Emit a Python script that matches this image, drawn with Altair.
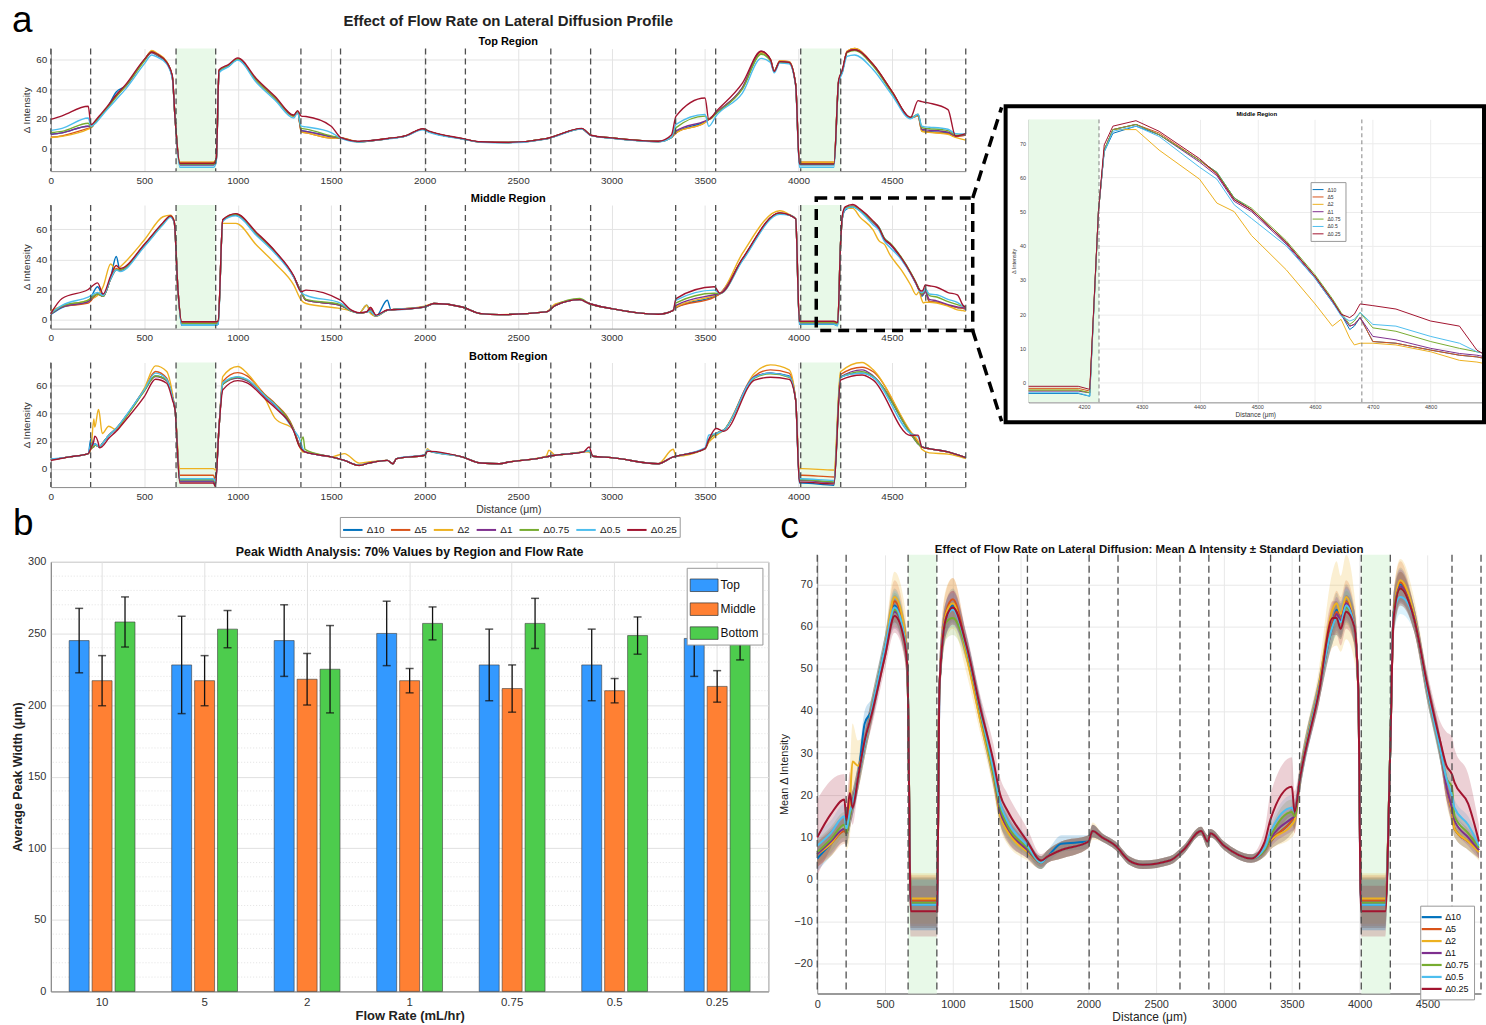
import altair as alt
import pandas as pd

FONT = "Liberation Sans, Arial, Helvetica, sans-serif"
NARROW = "Liberation Sans Narrow, Arial Narrow, Liberation Sans, Arial, sans-serif"

SERIES = ["Δ10", "Δ5", "Δ2", "Δ1", "Δ0.75", "Δ0.5", "Δ0.25"]
COLORS = ["#0072BD", "#D95319", "#EDB120", "#7E2F8E", "#77AC30", "#4DBEEE", "#A2142F"]

BOUNDARIES = [0, 213, 670, 882, 1338, 1550, 2005, 2218, 2675, 2888, 3343, 3557, 4012, 4226, 4681, 4895]
GREEN_START = [670, 4012]
GREEN_END = [882, 4226]
X_TICKS = [0, 500, 1000, 1500, 2000, 2500, 3000, 3500, 4000, 4500]
XDOM = [0, 4895]

# ---------------- Panel a : Top region ----------------
GX_TOP = [0, 60, 200, 215, 240, 260, 300, 350, 400, 500,
          540, 570, 620, 650, 665, 690, 870, 885, 900, 950,
          1000, 1100, 1200, 1300, 1320, 1340, 1365, 1500, 1550, 1650,
          1700, 1800, 1900, 1990, 2020, 2200, 2300, 2450, 2650, 2700,
          2840, 2890, 3000, 3250, 3320, 3345, 3500, 3520, 3560, 3700,
          3800, 3850, 3870, 3900, 3950, 3985, 4005, 4020, 4190, 4215,
          4235, 4260, 4300, 4400, 4500, 4600, 4640, 4660, 4680, 4700,
          4800, 4840, 4895]
TOP_D10 = [9.6, 10.5, 15, 14.5, 18, 21, 27, 38, 42, 59.5,
           65, 63, 58, 48, 20, -11, -11, -8, 52, 55.5,
           60, 46, 34, 22, 25, 12, 11.5, 8, 7, 4.5,
           5, 6.5, 8.5, 13, 11.5, 6.5, 4.4, 4, 6.5, 8.4,
           13.3, 8.8, 7, 4.7, 7.5, 10.7, 18, 19.5, 24, 40.7,
           64, 59.6, 52, 58.4, 58, 43, -11, -11, -11, 45,
           52, 65, 66.5, 56, 38, 20.7, 22, 12, 11.5, 11.2,
           10.7, 8.4, 9.6]
TOP_D5 = [7.5, 8.5, 13.5, 14, 18, 21, 27, 35, 42, 59.5,
          65.5, 63.5, 58, 48, 20, -9.5, -9.5, -7, 52.5, 55.5,
          60.5, 46, 34, 22, 25, 11, 10.5, 7, 7, 4.5,
          5, 6.5, 8.5, 13, 11.5, 6.5, 4.4, 4, 6.5, 8.4,
          13.3, 8.8, 7, 4.7, 7.5, 10.5, 17.5, 19.5, 24, 40.7,
          65, 60, 52, 59, 58.5, 43, -9.3, -9.3, -9.3, 45,
          52, 65.5, 67.3, 56.5, 38.5, 20.7, 22, 11.8, 11.3, 11,
          10, 8, 9]
TOP_D2 = [7.3, 8.2, 13, 14, 18, 21, 27, 35, 42, 59,
          66, 64, 58.5, 48, 20, -9.3, -9.3, -7, 52, 55.5,
          60, 45.5, 33.5, 21.5, 25, 11, 10.5, 7, 7, 4.3,
          5, 6.5, 8.5, 13, 11.5, 6.5, 4.4, 4, 6.5, 8.4,
          13.3, 8.8, 7, 4.7, 7.5, 10.5, 17.5, 19.5, 24, 40.7,
          64.5, 60, 52, 59, 58.5, 43, -9.3, -9.3, -9.3, 45,
          52, 65.5, 67.3, 56.5, 38.5, 20.7, 22, 11.5, 11, 10.8,
          9.5, 7.5, 5.6]
TOP_D1 = [9.5, 10.5, 15, 14.5, 18, 21, 27, 36, 42, 59.5,
          64.5, 62.5, 57.5, 48, 20, -11, -11, -8, 52, 55.5,
          60, 46, 34, 22, 25, 12, 11.5, 8, 7, 4.5,
          5, 6.5, 8.5, 13, 11.5, 6.5, 4.4, 4, 6.5, 8.4,
          13.3, 8.8, 7, 4.7, 7.5, 11.8, 18.4, 19.5, 24, 41,
          65.5, 59.6, 52, 58.4, 58, 43, -10.4, -10.4, -10.4, 45,
          52, 65, 66.5, 56, 38, 20.7, 22.5, 12.9, 12.5, 12.3,
          11, 8.5, 9.2]
TOP_D075 = [10.7, 11.5, 17, 14.5, 18, 21, 27, 35, 42, 59,
            65, 63, 58, 48, 20, -10.5, -10.5, -8, 52, 55.5,
            60, 46, 34, 22, 25, 13.5, 13, 8.5, 7, 4.5,
            5, 6.5, 8.5, 13, 11.5, 6.5, 4.4, 4, 6.5, 8.4,
            13.3, 8.8, 7, 4.7, 7.5, 14, 21.8, 19.5, 23.5, 40,
            63.5, 59, 52, 58, 57.5, 43, -10.4, -10.4, -10.4, 45,
            52, 64.5, 66, 55.5, 37.5, 20.7, 23, 14, 13.5, 13.3,
            12, 9, 9.4]
TOP_D05 = [12.2, 13.5, 20.5, 15, 17, 20, 26, 33, 40, 57,
           63, 61.5, 57, 47, 20, -12.7, -12.7, -9, 51, 55,
           59.5, 44.5, 32.5, 20.5, 24, 15, 14.5, 10.7, 7, 4.3,
           5, 6.3, 8.3, 12.5, 11, 6.3, 4.2, 3.8, 6.3, 8.2,
           13, 8.6, 6.8, 4.5, 7.5, 16.2, 22.9, 15, 22, 37.3,
           60.7, 58, 51, 57.5, 57, 42, -12.7, -12.7, -12.7, 44,
           51, 62, 63, 53, 36, 20, 23, 15, 14.5, 14.3,
           12.9, 10, 9.8]
TOP_D025 = [19.6, 22, 28.4, 16, 19, 22, 28, 36, 43, 60,
            65, 63.5, 58, 49, 20, -10, -10, -7, 53, 56.5,
            61, 47, 35, 22.5, 25.5, 21.8, 21.5, 15, 7.5, 4.8,
            5.2, 6.7, 8.6, 13.3, 11.8, 6.8, 4.5, 4.1, 6.6, 8.5,
            13.5, 8.9, 7.1, 4.8, 9, 21.8, 34, 19.6, 25, 44,
            65.5, 60, 52, 58.5, 58, 43, -10.4, -10.4, -10.4, 46,
            53, 65, 66.5, 56.5, 38.5, 21, 32.2, 31.5, 31, 30.5,
            26.2, 8.4, 10]

# ---------------- Panel a : Middle region ----------------
GX_MID = [0, 60, 200, 250, 280, 320, 350, 370, 500, 600,
          640, 660, 680, 700, 880, 895, 920, 990, 1100, 1200,
          1300, 1340, 1365, 1550, 1600, 1650, 1690, 1710, 1740, 1800,
          1820, 2000, 2050, 2200, 2300, 2400, 2650, 2700, 2830, 2880,
          3000, 3250, 3330, 3345, 3550, 3580, 3700, 3900, 3950, 3985,
          4005, 4020, 4190, 4210, 4225, 4235, 4250, 4290, 4330, 4400,
          4430, 4460, 4490, 4550, 4600, 4630, 4645, 4660, 4668, 4678,
          4700, 4740, 4800, 4850, 4880, 4895]
MID_D10 = [3.5, 8, 12, 21.8, 16, 28, 42, 33, 49.6, 64,
           68.5, 65, 20, -3.8, -3.8, -3, 66, 69.5, 57, 45,
           28.4, 18.4, 12.9, 9.5, 6.2, 4.4, 9.5, 5, 2.2, 12.9,
           6.5, 8.4, 10.7, 8.4, 4, 3.3, 5.1, 9.5, 13.3, 10.7,
           7.3, 3.6, 6.2, 8, 15.5, 17.3, 40, 70.7, 69.6, 67,
           -3.2, -3.2, -3.2, -4, 50, 67.5, 72.9, 75, 72.5, 65,
           61.5, 54, 50.5, 41, 31, 24, 20, 15.5, 16.5, 19,
           12, 11.5, 9.5, 8, 7.5, 7]
MID_D5 = [4, 8.5, 11, 17, 15.5, 27, 34, 33, 49.5, 64,
          68.9, 65, 20, -1.6, -1.6, -1, 66.2, 70.2, 57.3, 45,
          28.4, 18, 12.9, 9.5, 6.2, 4.4, 5, 8, 2.5, 6.2,
          6.5, 8.4, 10.7, 8.4, 4, 3.3, 5.1, 9.5, 13.3, 10.7,
          7.3, 3.6, 6.2, 8, 15, 17.3, 40, 70.7, 69.6, 67,
          -1.7, -1.7, -1.7, -2.5, 50, 68, 74, 75.5, 73, 65,
          61, 53.5, 50.5, 41, 31, 24, 20, 16.5, 17, 19,
          12, 11.5, 9.5, 8, 7.5, 7]
MID_D2 = [6, 9, 13, 16, 22, 37, 33, 35, 52.9, 68.4,
          69.5, 66, 20, -2.5, -2.5, -1.5, 64, 64, 49.6, 37.3,
          22.9, 12.9, 10.7, 7.3, 6, 4.4, 9.5, 4, 2.2, 6.2,
          6.5, 9, 10.7, 8.4, 4, 3.3, 5.1, 10.5, 13.3, 10.7,
          7.3, 3.6, 6.2, 8.5, 16, 17.3, 44, 72.4, 70, 67,
          -2.2, -2.2, -2.2, -3, 50, 68, 74, 74, 68, 59.5,
          52.5, 50, 43, 33, 23, 16.5, 18.5, 13, 11, 11.5,
          11.5, 11, 9, 6.5, 6, 5.5]
MID_D1 = [3.8, 8.5, 12, 17, 15.5, 27, 33, 33, 49.5, 64,
          68.5, 65, 20, -2.5, -2.5, -2, 66.2, 70, 57.3, 45,
          28.4, 18.4, 12.9, 9.5, 6.2, 4.4, 5, 7, 2.5, 6.2,
          6.5, 8.4, 10.7, 8.4, 4, 3.3, 5.1, 9.5, 13.3, 10.7,
          7.3, 3.6, 6.2, 9.5, 16.5, 17.3, 40, 70.7, 69.6, 67,
          -2.5, -2.5, -2.5, -3, 50, 68, 74, 75.5, 72.5, 64.5,
          60.5, 53, 50, 40.5, 30.5, 23.5, 20, 16.5, 17, 19,
          13.5, 12.5, 10, 8.5, 8, 7.5]
MID_D075 = [4, 9, 13, 17, 15.5, 27, 33, 33, 49, 63.5,
            68.5, 65, 20, -2.5, -2.5, -2, 66, 70, 57.3, 45,
            28.4, 18.4, 13.5, 10, 6.2, 4.4, 5, 6, 2.5, 6.2,
            6.5, 8.4, 10.7, 8.4, 4, 3.3, 5.1, 9.5, 14, 10.7,
            7.3, 3.6, 6.2, 11.1, 17.5, 17.3, 39.5, 70.5, 69.6, 67,
            -2.2, -2.2, -2.2, -3, 50, 68, 74, 75.5, 72.5, 65,
            61.5, 54, 51, 41.5, 31.5, 24.5, 20.5, 17, 18, 20.5,
            16, 15, 12, 10, 9, 8.5]
MID_D05 = [4.5, 9.5, 15, 18, 16, 27, 33, 32, 48.5, 63,
           68, 65, 20, -3.8, -3.8, -3, 65.5, 69, 56, 44,
           28, 18, 16.2, 11, 6.5, 4.4, 5, 5.5, 2.5, 6.2,
           6.5, 8.4, 10.7, 8.4, 4, 3.3, 5.1, 9.5, 13.3, 10.7,
           7.3, 3.6, 6.2, 12.9, 19.6, 17.3, 39, 70, 69.6, 67,
           -3, -3, -3, -4, 50, 67.5, 73.5, 75, 72, 63,
           59.5, 52, 48, 40, 30.5, 23.5, 19.5, 18, 18.5, 20.5,
           17, 16.5, 13.5, 11.5, 9, 8.5]
MID_D025 = [4, 14, 20, 24.4, 17, 29, 36, 34, 50, 64.5,
            69, 65.5, 20, -1.4, -1.4, -1, 66.5, 70.5, 58, 45.5,
            29, 18.5, 19.6, 12.9, 7, 4.6, 5.2, 8, 3, 6.4,
            6.5, 8.5, 10.7, 8.4, 4, 3.3, 5.1, 9.5, 13.3, 10.7,
            7.3, 3.6, 6.2, 14, 21.8, 17.5, 40.5, 71, 69.6, 67,
            -1.1, -1.1, -1.1, -2, 50, 69.5, 75, 76.6, 73.5, 65.5,
            61, 53.5, 50.5, 41, 31, 24, 20, 19, 20, 23,
            22.5, 21.5, 18, 16.5, 9.5, 8]

# ---------------- Panel a : Bottom region ----------------
GX_BOT = [0, 100, 200, 215, 230, 235, 255, 260, 275, 310,
          350, 400, 500, 560, 620, 650, 665, 690, 870, 880,
          900, 920, 1000, 1050, 1150, 1200, 1300, 1330, 1350, 1360,
          1500, 1570, 1650, 1700, 1800, 1830, 1850, 2000, 2015, 2030,
          2200, 2300, 2400, 2450, 2650, 2665, 2700, 2850, 2880, 2900,
          3000, 3250, 3330, 3345, 3500, 3520, 3560, 3600, 3765, 3850,
          3950, 3985, 4005, 4020, 4190, 4225, 4340, 4400, 4600, 4640,
          4660, 4700, 4800, 4895]
BOT_D10 = [6.5, 8.5, 10.9, 21.8, 17, 18, 16, 15.7, 18, 24,
           29, 37.5, 56.9, 67, 64, 52, 42, -9, -9, -12,
           30, 61, 66, 64, 52, 46, 27.8, 17, 13, 12.1,
           8.5, 6, 2.4, 4, 6, 3.6, 7.3, 9.7, 13, 12.5,
           8.5, 4.1, 3.6, 4.8, 8.5, 9, 9.7, 12.1, 13, 9,
           8, 3.6, 8.5, 9, 14.5, 20.6, 25.4, 27.8, 66, 69,
           67, 49.6, -10.4, -10.4, -12, 66.5, 69, 66, 25.4, 18,
           15.7, 14.5, 12.1, 8]
BOT_D5 = [6.5, 8.5, 10.9, 14.5, 16, 17, 16, 15.7, 18, 24,
          29, 37, 57, 70.2, 65.3, 52, 42, -4.8, -4.8, -8,
          30, 63, 69.4, 67, 53, 47, 28.5, 17, 13, 12.1,
          8.5, 6, 2.4, 4, 6, 3.6, 7.3, 9.7, 13, 12.5,
          8.5, 4.1, 3.6, 4.8, 8.5, 9, 9.7, 12.1, 13, 9,
          8, 3.6, 8.5, 9, 14.5, 20.6, 25.4, 27.8, 67, 71.4,
          69, 49.6, -4.8, -4.8, -6, 68, 73.3, 70, 26, 19,
          15.7, 14.5, 12, 8]
BOT_D2 = [6.5, 8.5, 10.9, 14.5, 36, 30, 42.8, 40, 25.4, 30.7,
          28, 37, 58, 74.3, 70.2, 55, 42, 0, 0, -1,
          30, 66.5, 73.8, 69, 49.6, 36.3, 28, 16, 12, 12.1,
          8.5, 10.9, 4, 4.8, 6, 3.6, 7.3, 9.7, 14.5, 12.5,
          8.5, 4.1, 3.6, 4.8, 9, 13.3, 9.7, 12.1, 12, 9,
          8, 3.6, 14, 9, 14.5, 19, 24, 27.8, 69, 75,
          71.4, 49.6, 0, 0, -1, 70, 76.7, 71.4, 27, 20,
          14, 11.4, 10.5, 7.3]
BOT_D1 = [6.5, 8.5, 10.9, 14.5, 16, 18, 16, 15.7, 18, 24,
          29, 37.5, 56.5, 66.5, 63.5, 52, 42, -9, -9, -11,
          30, 61, 65.5, 63.5, 51.5, 45.5, 27.5, 17, 13, 12.1,
          8.5, 6, 2.4, 4, 6, 3.6, 7.3, 9.7, 13, 12.5,
          8.5, 4.1, 3.6, 4.8, 8.5, 9, 9.7, 12.1, 13, 9,
          8, 3.6, 8.5, 9, 14.5, 20.6, 25.4, 27.8, 66.5, 69,
          66.5, 49.6, -8.5, -8.5, -10, 66, 71.4, 67, 25.4, 18,
          15.7, 14.5, 12.1, 8]
BOT_D075 = [6.5, 8.5, 10.9, 14.5, 16, 17, 16, 15.7, 18, 24,
            29, 37, 56, 67, 64, 52, 42, -8, -8, -10,
            30, 61, 66, 64, 52.5, 46.5, 28, 17, 23, 14,
            8.5, 6, 2.4, 4, 6, 3.6, 7.3, 9.7, 13, 12.5,
            8.5, 4.1, 3.6, 4.8, 8.5, 9, 9.7, 12.1, 13, 9,
            8, 3.6, 8.5, 9, 14.5, 20.6, 25.4, 27.8, 65.5, 68.5,
            66, 49.6, -8, -8, -9.5, 66, 70, 66.5, 25.4, 18,
            15.7, 14.5, 12.1, 8]
BOT_D05 = [7, 8.5, 10.9, 18, 17, 18, 16, 16, 18, 24,
           29, 38, 57, 69, 64.5, 52, 42, -7.3, -7.3, -9,
           30, 62, 66.5, 64.5, 52, 46, 27.8, 21.8, 14, 12.1,
           8.5, 6, 2.6, 4, 6, 3.6, 7.3, 10.2, 13.5, 12.5,
           8.5, 4.1, 3.6, 4.8, 8.5, 9, 9.7, 12.1, 13, 9,
           8, 3.6, 8.5, 9, 15, 24.2, 25.4, 27.8, 66, 69,
           66.5, 49.6, -7.3, -7.3, -8.5, 66, 69, 66, 25.4, 23,
           16, 14.5, 12.1, 8]
BOT_D025 = [6, 8.5, 10.9, 15, 20, 23.5, 18, 15, 16, 22,
            27, 35, 52, 64.6, 61.7, 50, 42, -10.4, -10.4, -13,
            30, 56.9, 63.6, 62, 50, 44, 27, 16, 13, 12.1,
            8.5, 6, 2.3, 4, 6, 3.6, 7.3, 9.7, 12.5, 12.5,
            8.5, 4.1, 3.6, 4.8, 8.5, 9, 9.7, 12.1, 15.7, 9,
            8, 3.6, 8.5, 9, 14.5, 21, 29, 27, 64, 66,
            64.5, 49.6, -9.7, -9.7, -11, 64, 67.7, 64, 24, 24.2,
            15.7, 14.5, 12.1, 8]

# ---------------- Panel b : peak widths ----------------
FLOWS = ["10", "5", "2", "1", "0.75", "0.5", "0.25"]
REGIONS = ["Top", "Middle", "Bottom"]
REGION_COLORS = ["#3399FF", "#FF8033", "#4DCC4D"]
B_TOP = [245, 228, 245, 250, 228, 228, 246.5]
B_TOP_SD = [22.5, 34, 25, 22.5, 25, 25, 26.5]
B_MID = [217, 217, 218, 217, 211.5, 210, 213]
B_MID_SD = [17.5, 17.5, 18, 8.5, 16.5, 8.5, 11]
B_BOT = [258, 253, 225, 257, 257, 248.5, 243]
B_BOT_SD = [17.5, 13, 30.5, 11.5, 17.5, 13, 11.5]
B_YTICKS = [0, 50, 100, 150, 200, 250, 300]
B_MINOR = [v for v in range(10, 300, 10) if v % 50 != 0]

# ---------------- Panel c : mean +/- sd ----------------
GX_C = [0, 100, 200, 215, 240, 260, 300, 350, 400, 500,
        570, 640, 665, 690, 870, 885, 900, 950, 1000, 1100,
        1200, 1300, 1350, 1400, 1550, 1650, 1700, 1800, 2000, 2030,
        2100, 2200, 2300, 2400, 2600, 2700, 2830, 2880, 2900, 3000,
        3200, 3300, 3340, 3500, 3520, 3560, 3700, 3800, 3830, 3860,
        3900, 3960, 3990, 4010, 4190, 4225, 4250, 4300, 4400, 4500,
        4600, 4640, 4680, 4700, 4800, 4880]
C_D10 = [5, 8.5, 12, 11, 15, 18, 24, 37, 40, 55,
         65, 58, 50, -6, -6, -6, 45, 62, 65, 55,
         40, 25, 16, 12, 7, 4, 5.5, 8.5, 9, 11.5,
         10, 8, 4.5, 3.5, 4.5, 7, 11.5, 9, 11, 8,
         5, 7, 9, 14, 15, 24, 45, 61, 64, 62,
         66, 60, 45, -6, -6, 30, 63, 70, 62, 45,
         30, 22, 16, 12, 9, 7]
C_D5 = [6, 8.5, 11.5, 11, 15, 18, 24, 32, 40, 55,
        66, 58, 50, -5, -5, -5, 45, 63.5, 66.5, 55,
        40, 25, 16, 12, 7, 4, 5.5, 7, 9, 11.5,
        10, 8, 4.5, 3.5, 4.5, 7, 11.5, 9, 11, 8,
        5, 7, 9, 14, 15, 24, 45, 61, 63.5, 62,
        66, 60, 45, -5, -5, 30, 63, 70.5, 62, 45,
        30, 22, 16, 12, 9, 7]
C_D2 = [6, 8.5, 12, 12, 18, 28, 27, 32, 40, 55,
        67, 60, 50, -4.5, -4.5, -4.5, 45, 63, 65.5, 53,
        38, 24, 15, 11.5, 6.5, 4, 5.5, 7, 9, 11.5,
        10, 8, 4.5, 3.5, 4.5, 7, 11.5, 9, 11, 8,
        5, 7, 9, 13, 14, 24, 46, 64, 65.5, 63,
        67, 60, 45, -4.5, -4.5, 30, 63, 71, 63, 45,
        30, 22, 16, 12, 9, 6.5]
C_D1 = [6, 9, 12, 11, 15, 18, 24, 32, 40, 55,
        63.5, 58, 50, -5.5, -5.5, -5.5, 45, 62, 64.5, 55,
        40, 25, 16, 12.5, 7, 4, 5.5, 7, 9, 11.5,
        10, 8, 4.5, 3.5, 4.5, 7, 11.5, 9, 11, 8,
        5, 7, 9.5, 14.5, 15, 24, 45, 60, 63, 61.5,
        65.5, 60, 45, -5.5, -5.5, 30, 63, 69.5, 62, 45,
        30, 22, 17, 14, 10, 7]
C_D075 = [6.5, 9.5, 13, 11, 15, 18, 24, 32, 40, 55,
          64, 58, 50, -5.5, -5.5, -5.5, 45, 61, 62, 54.5,
          40, 25, 17, 13, 7.5, 4, 5.5, 7, 9, 11.5,
          10, 8, 4.5, 3.5, 4.5, 7, 11.5, 9, 11, 8,
          5, 7, 10, 16, 15, 24, 45, 60, 62, 61,
          64.5, 60, 45, -5.5, -5.5, 30, 63, 69, 62, 45,
          30, 24, 22, 15, 11, 7.5]
C_D05 = [8, 11, 15, 12, 16, 18, 24, 32, 40, 55,
         64.5, 58, 50, -6, -6, -6, 45, 62, 64, 55,
         40.5, 26, 18, 14, 8, 4, 5.5, 7, 9, 11.5,
         10, 8, 4.5, 3.5, 4.5, 7, 11.5, 9, 11, 8,
         5, 7.5, 11, 17, 16, 24, 45, 60, 62, 61,
         65, 60, 45, -6, -6, 30, 63, 67, 62, 45,
         30, 24, 20, 17, 13, 8]
C_D025 = [10, 15.5, 19, 14, 20.5, 17, 24, 33, 39, 53,
          62.5, 57, 50, -7.5, -7.5, -7.5, 45, 62, 64.5, 55.5,
          41, 28, 20, 16.5, 9, 4.5, 5.5, 7, 9, 11.5,
          10, 8, 4.5, 3.5, 4.5, 7, 11.5, 9, 11, 8,
          5, 9, 14, 22, 16, 24, 44.5, 62, 62, 59.5,
          63.5, 60, 45, -7.5, -7.5, 30, 62, 69, 62, 46,
          32, 27, 25, 23, 18, 9]
C_S10 = [3, 3, 3, 3, 3, 3, 3, 3, 3, 3,
         4, 4, 6, 6, 6, 6, 6, 4, 4, 3,
         3, 3, 3, 3, 2, 1.5, 1.5, 2, 1.5, 1.5,
         1, 1, 1, 1, 1, 1, 1, 1.5, 1, 1,
         1, 1.5, 2, 3, 3, 3, 3, 4, 4, 4,
         4, 4, 6, 6, 6, 6, 5, 4, 3, 3,
         3, 3, 3, 2, 2, 2]
C_S5 = [3, 3, 3, 3, 3, 3, 3, 3, 3, 3,
        5, 5, 6, 6, 6, 6, 6, 5, 5, 3,
        3, 3, 3, 3, 2, 1.5, 1.5, 2, 1.5, 1.5,
        1, 1, 1, 1, 1, 1, 1, 1.5, 1, 1,
        1, 1.5, 2, 3, 3, 3, 3, 5, 5, 5,
        5, 5, 6, 6, 6, 6, 5, 5, 3, 3,
        3, 3, 3, 2, 2, 2]
C_S2 = [3, 3, 3, 5, 8, 9, 6, 3, 3, 3,
        6, 6, 7, 6, 6, 6, 6, 6, 6, 4,
        3, 3, 3, 3, 2, 1.5, 1.5, 2, 1.5, 2,
        1, 1, 1, 1, 1, 1, 1, 1.5, 1, 1,
        1, 1.5, 2, 3, 3, 3, 4, 9, 10, 9,
        10, 8, 7, 6, 6, 6, 5, 5, 4, 3,
        3, 4, 3, 2, 2, 2]
C_S1 = [3, 3, 3, 3, 3, 3, 3, 3, 3, 3,
        4, 4, 6, 6, 6, 6, 6, 4, 4, 3,
        3, 3, 3, 3, 2, 1.5, 1.5, 2, 1.5, 1.5,
        1, 1, 1, 1, 1, 1, 1, 1.5, 1, 1,
        1, 1.5, 2, 3, 3, 3, 3, 4, 4, 4,
        4, 4, 6, 6, 6, 6, 5, 4, 3, 3,
        3, 3, 3, 2, 2, 2]
C_S075 = [3, 3, 3, 3, 3, 3, 3, 3, 3, 3,
          4, 4, 6, 6, 6, 6, 6, 4, 4, 3,
          3, 3, 4, 3, 2, 1.5, 1.5, 2, 1.5, 1.5,
          1, 1, 1, 1, 1, 1, 1, 1.5, 1, 1,
          1, 1.5, 2, 3, 3, 3, 3, 4, 4, 4,
          4, 4, 6, 6, 6, 6, 5, 4, 3, 3,
          3, 3, 3, 2, 2, 2]
C_S05 = [3, 3, 3, 3, 3, 3, 3, 3, 3, 3,
         4, 4, 6, 6, 6, 6, 6, 4, 4, 3,
         3, 3, 3, 3, 2, 1.5, 1.5, 2, 1.5, 1.5,
         1, 1, 1, 1, 1, 1, 1, 1.5, 1, 1,
         1, 1.5, 2, 3, 3, 3, 3, 4, 4, 4,
         4, 4, 6, 6, 6, 6, 5, 4, 3, 3,
         3, 3, 3, 2, 2, 2]
C_S025 = [9, 8, 6, 5, 5, 4, 3, 3, 3, 3,
          4, 4, 6, 6, 6, 6, 6, 4, 4, 3,
          3, 4, 4, 4, 3, 1.5, 1.5, 2, 1.5, 1.5,
          1, 1, 1, 1, 1, 1, 1, 1.5, 1, 1,
          1, 3, 6, 7, 5, 3, 3, 4, 4, 4,
          4, 4, 6, 6, 6, 6, 5, 4, 3, 3,
          5, 8, 9, 8, 7, 4]

# ---------------- helpers ----------------
GRID = "#e3e3e3"
AXC = "#8a8a8a"
LAB = "#333333"
GREEN = "#e8f9e8"
INTERP = "monotone"


def long_df(xs, cols):
    rows = []
    for name, ys in zip(SERIES, cols):
        if len(ys) != len(xs):
            raise ValueError(f"{name}: {len(ys)} values for {len(xs)} x")
        for i, (x, y) in enumerate(zip(xs, ys)):
            rows.append({"x": x, "y": y, "series": name, "order": i})
    return pd.DataFrame(rows)


def band_df(xs, means, sds):
    rows = []
    for name, ms, ss in zip(SERIES, means, sds):
        if len(ms) != len(xs) or len(ss) != len(xs):
            raise ValueError(f"{name}: bad length")
        for i, (x, m, s) in enumerate(zip(xs, ms, ss)):
            rows.append({"x": x, "mean": m, "lo": m - s, "hi": m + s, "series": name, "order": i})
    return pd.DataFrame(rows)


GREEN_DF = pd.DataFrame({"x0": GREEN_START, "x1": GREEN_END})
BOUND_DF = pd.DataFrame({"x": BOUNDARIES})
ONE = pd.DataFrame({"k": [0]})
COLOR_SCALE = alt.Scale(domain=SERIES, range=COLORS)


def text_mark(t, x, y, size, weight="normal", align="center", font=FONT, color="#000"):
    return alt.Chart(pd.DataFrame({"t": [t]})).mark_text(
        fontSize=size, fontWeight=weight, font=font, align=align, baseline="alphabetic", color=color
    ).encode(text="t:N", x=alt.value(x), y=alt.value(y))


def region_panel(xs, cols, ydom, h, legend, xtitle, extras=()):
    df = long_df(xs, cols)
    xsc = alt.Scale(domain=XDOM, nice=False, zero=False)
    ysc = alt.Scale(domain=ydom, nice=False, zero=False)
    xa = alt.Axis(values=X_TICKS, format="d", title=xtitle, grid=True, gridColor=GRID, ticks=False,
                  labelFontSize=10, labelColor=LAB, domainColor=AXC, labelPadding=4,
                  titleFontSize=10.5, titleFontWeight="normal", titleColor=LAB, titlePadding=4,
                  labelFlush=False)
    ya = alt.Axis(values=[0, 20, 40, 60], title="Δ Intensity", grid=True, gridColor=GRID, ticks=False,
                  labelFontSize=10, labelColor=LAB, domainColor=AXC, labelPadding=4,
                  titleFontSize=10, titleFontWeight="normal", titleColor=LAB, titlePadding=4)
    green = alt.Chart(GREEN_DF).mark_rect(color=GREEN).encode(
        x=alt.X("x0:Q", scale=xsc, axis=xa), x2="x1:Q")
    lines = alt.Chart(df).mark_line(strokeWidth=1.4, interpolate=INTERP).encode(
        x=alt.X("x:Q", scale=xsc, axis=xa),
        y=alt.Y("y:Q", scale=ysc, axis=ya),
        color=alt.Color("series:N", scale=COLOR_SCALE, legend=legend),
        order="order:Q")
    rules = alt.Chart(BOUND_DF).mark_rule(color="#505050", strokeDash=[6, 4], strokeWidth=1.3).encode(
        x=alt.X("x:Q", scale=xsc, axis=xa))
    return alt.layer(green, lines, rules, *extras).properties(width=918, height=h)


# ---------------- panel a ----------------
top = region_panel(
    GX_TOP, [TOP_D10, TOP_D5, TOP_D2, TOP_D1, TOP_D075, TOP_D05, TOP_D025],
    [-15.3, 67.3], 123, None, None,
    extras=(text_mark("Effect of Flow Rate on Lateral Diffusion Profile", 459, -23, 15, "bold", color="#222"),
            text_mark("Top Region", 459, -4, 11, "bold"),
            text_mark("a", -39, -17, 37, align="left")))

zoom_box = alt.Chart(ONE).mark_rect(fillOpacity=0, stroke="#000", strokeWidth=3.5, strokeDash=[11, 7]).encode(
    x=alt.value(768), x2=alt.value(925), y=alt.value(-7), y2=alt.value(126))
conn1 = alt.Chart(ONE).mark_rule(color="#000", strokeWidth=3.5, strokeDash=[11, 7]).encode(
    x=alt.value(925), x2=alt.value(954), y=alt.value(-7), y2=alt.value(-98))
conn2 = alt.Chart(ONE).mark_rule(color="#000", strokeWidth=3.5, strokeDash=[11, 7]).encode(
    x=alt.value(925), x2=alt.value(954), y=alt.value(126), y2=alt.value(217))

MID_COLS = [MID_D10, MID_D5, MID_D2, MID_D1, MID_D075, MID_D05, MID_D025]
mid = region_panel(GX_MID, MID_COLS, [-6, 76.2], 124, None, None,
                   extras=(text_mark("Middle Region", 459, -3, 11, "bold"), zoom_box, conn1, conn2))

legend_a = alt.Legend(title=None, orient="none", legendX=290, legendY=155, direction="horizontal",
                      columns=7, gridAlign="each", symbolType="stroke", symbolSize=380, symbolStrokeWidth=2,
                      labelFontSize=10, labelColor="#222", strokeColor="#9a9a9a", fillColor="white",
                      padding=2, columnPadding=2, labelOffset=3)
bot = region_panel(GX_BOT, [BOT_D10, BOT_D5, BOT_D2, BOT_D1, BOT_D075, BOT_D05, BOT_D025],
                   [-13.3, 76.7], 125, legend_a, "Distance (μm)",
                   extras=(text_mark("Bottom Region", 459, -3, 11, "bold"),
                           text_mark("b", -38, 173, 37, align="left"),
                           text_mark("c", 732, 176, 37, align="left")))

# ---------------- inset ----------------
inset_df = long_df(GX_MID, MID_COLS)
inset_df = inset_df[inset_df["x"] >= 4020]
xsi = alt.Scale(domain=[4104, 4889], nice=False, zero=False)
ysi = alt.Scale(domain=[-5.8, 77], nice=False, zero=False)
xai = alt.Axis(values=[4200, 4300, 4400, 4500, 4600, 4700, 4800], format="d", title="Distance (μm)",
               grid=True, gridColor="#ececec", ticks=False, labelFontSize=5.5, labelColor="#444",
               domainColor=AXC, titleFontSize=6.5, titleFontWeight="normal", titleColor="#333",
               labelPadding=2, titlePadding=2)
yai = alt.Axis(values=[0, 10, 20, 30, 40, 50, 60, 70], title="Δ Intensity", grid=True, gridColor="#ececec",
               ticks=False, labelFontSize=5.5, labelColor="#444", domainColor=AXC,
               titleFontSize=5.5, titleFontWeight="normal", titleColor="#333", labelPadding=3, titlePadding=3)
legend_i = alt.Legend(title=None, orient="none", legendX=283, legendY=63, symbolType="M-2,0H2",
                      symbolSize=30, symbolStrokeWidth=1, labelFontSize=5, labelColor="#333",
                      strokeColor="#999", fillColor="white", padding=4, rowPadding=0.4, labelOffset=6)
inset = alt.layer(
    alt.Chart(GREEN_DF).mark_rect(color=GREEN, clip=True).encode(
        x=alt.X("x0:Q", scale=xsi, axis=xai), x2="x1:Q"),
    alt.Chart(inset_df).mark_line(strokeWidth=1, clip=True).encode(
        x=alt.X("x:Q", scale=xsi, axis=xai), y=alt.Y("y:Q", scale=ysi, axis=yai),
        color=alt.Color("series:N", scale=COLOR_SCALE, legend=legend_i), order="order:Q"),
    alt.Chart(BOUND_DF).mark_rule(color="#666", strokeDash=[4, 3], strokeWidth=0.8, clip=True).encode(
        x=alt.X("x:Q", scale=xsi, axis=xai)),
    alt.Chart(ONE).mark_rect(fillOpacity=0, stroke="#000", strokeWidth=4).encode(
        x=alt.value(-23), x2=alt.value(457), y=alt.value(-13), y2=alt.value(304)),
    text_mark("Middle Region", 229, -3, 6, "bold"),
).properties(width=455, height=284)


def spacer(w, h=1):
    return alt.Chart(ONE).mark_point(opacity=0, size=1).encode(
        x=alt.value(0), y=alt.value(0)).properties(width=w, height=h)


# ---------------- panel b ----------------
brows = []
for reg, means, sds in zip(REGIONS, [B_TOP, B_MID, B_BOT], [B_TOP_SD, B_MID_SD, B_BOT_SD]):
    for f, m, s in zip(FLOWS, means, sds):
        brows.append({"flow": f, "region": reg, "mean": m, "lo": m - s, "hi": m + s})
bdf = pd.DataFrame(brows)
xb_axis = alt.Axis(title="Flow Rate (mL/hr)", labelAngle=0, labelFontSize=11.5, labelFont=NARROW,
                   titleFont=NARROW, titleFontSize=13, titleFontWeight="bold", titleColor="#222",
                   grid=True, gridColor="#e0e0e0", bandPosition=0.5, ticks=False, domainColor="#888",
                   labelColor=LAB, labelPadding=5, titlePadding=2)
yb_axis = alt.Axis(values=B_YTICKS, title="Average Peak Width (μm)", titleFontSize=12.5,
                   titleFontWeight="bold", titleColor="#222", labelFontSize=11, labelFont=NARROW,
                   labelColor=LAB, grid=True, gridColor="#e0e0e0", ticks=False, domainColor="#888",
                   labelPadding=5, titlePadding=3)
xb = alt.X("flow:N", sort=FLOWS, scale=alt.Scale(paddingInner=0, paddingOuter=0), axis=xb_axis)
xob = alt.XOffset("region:N", sort=REGIONS, scale=alt.Scale(paddingInner=0.13, paddingOuter=0.8))
ysc_b = alt.Scale(domain=[0, 300], nice=False)
legend_b = alt.Legend(title=None, orient="none", legendX=638, legendY=6,
                      symbolType="M-1,-0.45H1V0.45H-1Z", symbolSize=780, symbolStrokeColor="#333",
                      symbolStrokeWidth=0.7, symbolOpacity=1, labelFontSize=12, labelFont=NARROW,
                      labelColor="#111", strokeColor="#999", fillColor="white", padding=3,
                      rowPadding=1, labelOffset=2)
b_minor = alt.Chart(pd.DataFrame({"v": B_MINOR})).mark_rule(
    color="#dadada", strokeDash=[1, 2], strokeWidth=0.8).encode(
    y=alt.Y("v:Q", scale=ysc_b, axis=yb_axis))
b_bars = alt.Chart(bdf).mark_bar(stroke="#3a3a3a", strokeWidth=0.6).encode(
    x=xb, xOffset=xob, y=alt.Y("mean:Q", scale=ysc_b, axis=yb_axis),
    color=alt.Color("region:N", sort=REGIONS, scale=alt.Scale(domain=REGIONS, range=REGION_COLORS),
                    legend=legend_b))
b_err = alt.Chart(bdf).mark_rule(color="#111", strokeWidth=1.3).encode(
    x=xb, xOffset=xob, y=alt.Y("lo:Q", scale=ysc_b, axis=yb_axis), y2="hi:Q")
b_cap_lo = alt.Chart(bdf).mark_tick(color="#111", thickness=1.5, size=8).encode(
    x=xb, xOffset=xob, y=alt.Y("lo:Q", scale=ysc_b, axis=yb_axis))
b_cap_hi = alt.Chart(bdf).mark_tick(color="#111", thickness=1.5, size=8).encode(
    x=xb, xOffset=xob, y=alt.Y("hi:Q", scale=ysc_b, axis=yb_axis))
panel_b = alt.layer(b_minor, b_bars, b_err, b_cap_lo, b_cap_hi).properties(
    width=720, height=431,
    title=alt.TitleParams("Peak Width Analysis: 70% Values by Region and Flow Rate", font=NARROW,
                          fontSize=12.5, fontWeight="bold", color="#111", offset=-3),
    view=alt.ViewBackground(stroke="#9a9a9a", strokeWidth=1))

# ---------------- panel c ----------------
cdf = band_df(GX_C, [C_D10, C_D5, C_D2, C_D1, C_D075, C_D05, C_D025],
              [C_S10, C_S5, C_S2, C_S1, C_S075, C_S05, C_S025])
xsc_c = alt.Scale(domain=XDOM, nice=False, zero=False)
ysc_c = alt.Scale(domain=[-27, 77], nice=False, zero=False)
xc_axis = alt.Axis(values=X_TICKS, format="d", title="Distance (μm)", grid=True, gridColor="#e8e8e8",
                   ticks=False, labelFontSize=11, labelFont=NARROW, labelColor=LAB, domainColor="#999",
                   domainWidth=2, titleFontSize=12, titleFont=NARROW, titleFontWeight="normal",
                   titleColor="#222", labelPadding=5, titlePadding=2, labelFlush=False)
yc_axis = alt.Axis(values=[-20, -10, 0, 10, 20, 30, 40, 50, 60, 70], title="Mean Δ Intensity", grid=True,
                   gridColor="#e8e8e8", ticks=False, labelFontSize=11, labelFont=NARROW, labelColor=LAB,
                   domainColor="#999", titleFontSize=11, titleFontWeight="normal", titleColor="#222",
                   labelPadding=5, titlePadding=4)
legend_c = alt.Legend(title=None, orient="none", legendX=605, legendY=352, symbolType="M-2,0H2",
                      symbolSize=100, symbolStrokeWidth=2.2, labelFontSize=9, labelFont=NARROW,
                      labelColor="#111", strokeColor="#999", fillColor="white", padding=5, rowPadding=0,
                      labelOffset=7)
panel_c = alt.layer(
    alt.Chart(GREEN_DF).mark_rect(color=GREEN).encode(x=alt.X("x0:Q", scale=xsc_c, axis=xc_axis), x2="x1:Q"),
    alt.Chart(cdf).mark_area(opacity=0.2, interpolate=INTERP).encode(
        x=alt.X("x:Q", scale=xsc_c, axis=xc_axis),
        y=alt.Y("lo:Q", scale=ysc_c, axis=yc_axis, stack=None), y2="hi:Q",
        color=alt.Color("series:N", scale=COLOR_SCALE, legend=None)),
    alt.Chart(cdf).mark_line(strokeWidth=2, interpolate=INTERP).encode(
        x=alt.X("x:Q", scale=xsc_c, axis=xc_axis), y=alt.Y("mean:Q", scale=ysc_c, axis=yc_axis),
        color=alt.Color("series:N", scale=COLOR_SCALE, legend=legend_c), order="order:Q"),
    alt.Chart(BOUND_DF).mark_rule(color="#505050", strokeDash=[7, 4], strokeWidth=1.3).encode(
        x=alt.X("x:Q", scale=xsc_c, axis=xc_axis)),
).resolve_legend(color="independent").properties(
    width=666, height=440,
    title=alt.TitleParams("Effect of Flow Rate on Lateral Diffusion: Mean Δ Intensity ± Standard Deviation",
                          font=NARROW, fontSize=11.5, fontWeight="bold", color="#111", offset=-1))

# ---------------- layout ----------------
colA = alt.vconcat(top, mid, bot, spacing=34, bounds="flush").resolve_scale(color="independent")
insetCol = alt.vconcat(spacer(455), inset, spacing=70, bounds="flush").resolve_scale(color="independent")
row1 = alt.hconcat(colA, insetCol, spacing=0).resolve_scale(color="independent")
bCol = alt.vconcat(spacer(720), panel_b, spacing=6, bounds="flush").resolve_scale(color="independent")
row2 = alt.hconcat(bCol, panel_c, spacing=9).resolve_scale(color="independent")
chart = alt.vconcat(row1, row2, spacing=-2).resolve_scale(color="independent").properties(
    padding={"left": 11, "top": 0, "right": 0, "bottom": 0}, background="white"
).configure_view(stroke=None).configure_axis(labelFont=FONT, titleFont=FONT).configure_legend(
    labelFont=FONT).configure_title(font=FONT, anchor="middle")

chart.save("out.html", embed_options={"renderer": "svg", "actions": False})
